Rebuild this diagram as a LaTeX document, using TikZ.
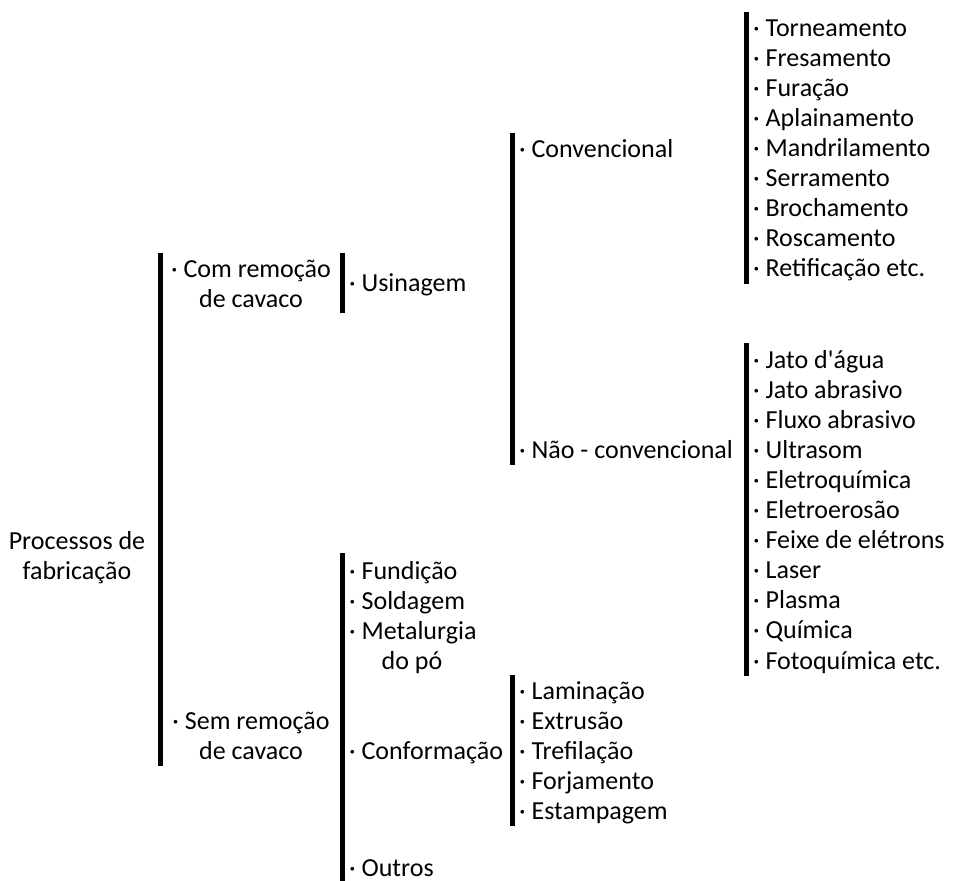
\documentclass[tikz,border=0pt]{standalone}
\usepackage{fontspec}
\setmainfont{Carlito}
\newfontfamily\carl{Carlito}
\begin{document}
\begin{tikzpicture}[x=1pt,y=-1pt,
  lbl/.style={anchor=base west,inner sep=0pt,font=\carl\fontsize{26}{30}\selectfont,text=black},
  lblb/.style={lbl,anchor=base},
  bar/.style={line width=5pt,black}]
\useasboundingbox (0,0) rectangle (954,881);
% bars
\draw[bar] (160,253) coordinate (b1t) -- (160,766) coordinate (b1b);
\draw[bar] (342,253) coordinate (b2t) -- (342,313) coordinate (b2b);
\draw[bar] (512,133) coordinate (b3t) -- (512,465) coordinate (b3b);
\draw[bar] (746,12) coordinate (b4t) -- (746,284) coordinate (b4b);
\draw[bar] (746,343) coordinate (b5t) -- (746,676) coordinate (b5b);
\draw[bar] (342,553) coordinate (b6t) -- (342,881) coordinate (b6b);
\draw[bar] (512,675) coordinate (b7t) -- (512,826) coordinate (b7b);
% root
\node[lblb] (root1) at (77,549) {Processos de};
\node[lblb] (root2) at (77,579) {fabricação};
% level 1
\node[lblb] (com1) at (251,277) {· Com remoção};
\node[lblb] (com2) at (251,307) {de cavaco};
\node[lblb] (sem1) at (251,729) {· Sem remoção};
\node[lblb] (sem2) at (251,759) {de cavaco};
% level 2
\node[lbl] (usi) at (349,291) {· Usinagem};
\node[lbl] (fun) at (349,579) {· Fundição};
\node[lbl] (sol) at (349,609) {· Soldagem};
\node[lbl] (met1) at (349,639) {· Metalurgia};
\node[lblb] (met2) at (412,669) {do pó};
\node[lbl] (con) at (349,759) {· Conformação};
\node[lbl] (out) at (349,876) {· Outros};
% level 3
\node[lbl] (conv) at (519,157) {· Convencional};
\node[lbl] (nconv) at (519,458) {· Não - convencional};
\node[lbl] (lam) at (519,699) {· Laminação};
\node[lbl] (ext) at (519,729) {· Extrusão};
\node[lbl] (tre) at (519,759) {· Trefilação};
\node[lbl] (for) at (519,789) {· Forjamento};
\node[lbl] (est) at (519,819) {· Estampagem};
% level 4 conventional
\foreach \t [count=\i from 0] in {Torneamento,Fresamento,Furação,Aplainamento,Mandrilamento,Serramento,Brochamento,Roscamento,Retificação etc.}
  \node[lbl] (c\i) at (753,36+30.1*\i) {· \t};
% level 4 non-conventional
\foreach \t [count=\i from 0] in {Jato d'água,Jato abrasivo,Fluxo abrasivo,Ultrasom,Eletroquímica,Eletroerosão,Feixe de elétrons,Laser,Plasma,Química,Fotoquímica etc.}
  \node[lbl] (n\i) at (753,368+30.1*\i) {· \t};
\end{tikzpicture}
\end{document}
